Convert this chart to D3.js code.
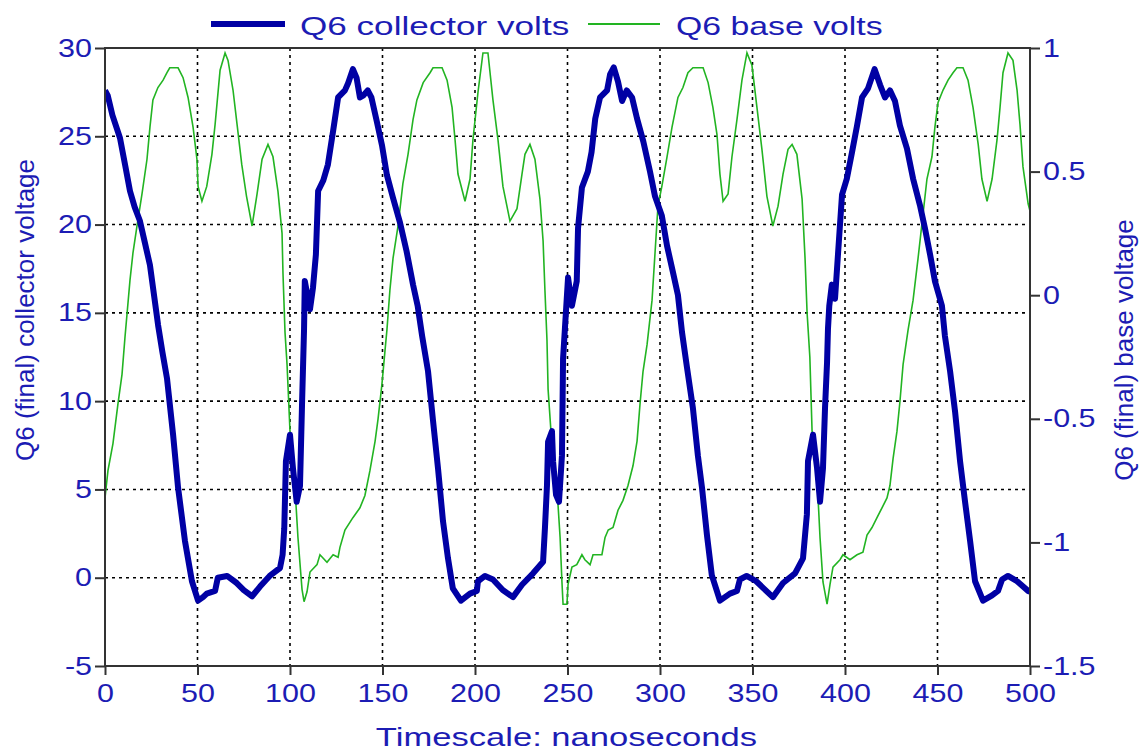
<!DOCTYPE html>
<html>
<head>
<meta charset="utf-8">
<script src="https://cdn.jsdelivr.net/npm/d3@7"></script>
<style>
body { margin:0; background:#fff; }
text { font-family: "Liberation Sans", Arial, sans-serif; fill: #1c1cb4; }
</style>
</head>
<body>
<svg id="chart" width="1139" height="753"></svg>
<script>
// collector volts (left axis)
var collectorT = [0,1.5,4,8.1,11,13.5,16,18.9,21.5,24.3,28.7,31,33.5,36.8,39.5,43.2,45,47,50.3,53,55,59.5,61,66,71.2,75,79.5,83.8,89,94.6,96,96.9,97.8,100,101.6,103.6,105.4,106.5,107.6,108,110.8,112.4,114,115.2,118,120.5,123.3,126,129.7,131.4,134,136,137.8,139.5,142,144,147,149.7,152.4,155.7,159.5,163,166.5,169,171.4,174.6,177.3,180,182.7,185.4,188,192.4,197.3,201,201.6,205.4,209.7,215,220.5,225.4,231.4,236.8,237.8,238.9,239.5,241.6,242.2,243.8,245.4,247,247.6,248.6,250.3,252.4,255,255.7,257.8,261,263,265,267.6,271.4,273,275,277.3,279.5,282,284.9,287.6,291,294.6,297.3,301,303.8,307,309.7,311.9,314.6,317.8,320.5,322.7,325.4,328,332.4,337.8,341.6,343.2,346.8,352,356,361,366.5,373,377.3,379.4,380,382.7,384.9,386.5,388.1,389.2,390.3,390.8,391.5,392.9,394.6,396.2,398.4,401,403.8,406.5,409.2,412.4,416,419,421.6,424.3,427,429.7,433.5,436.8,440.5,443.2,446,448.6,452.4,454,456.8,459.5,462.2,464.9,467.6,470.3,474.6,479.5,482.7,484.9,488.1,493,499,500];
var collectorV = [27.6,27.3,26.2,24.9,23.3,21.9,21.0,20.2,19.0,17.7,14.3,12.8,11.3,8.1,5.1,2.1,1.0,-0.2,-1.3,-1.1,-0.9,-0.75,0,0.1,-0.3,-0.7,-1.05,-0.5,0.1,0.55,1.3,2.8,6.6,8.1,6.2,4.3,5.2,9.8,14.1,16.8,15.2,16.4,18.3,21.9,22.5,23.4,25.3,27.2,27.6,28.0,28.8,28.3,27.2,27.3,27.6,27.2,25.8,24.5,22.8,21.5,20.1,18.5,16.6,15.4,13.7,11.7,8.9,6.2,3.2,1.1,-0.6,-1.3,-0.9,-0.75,-0.2,0.1,-0.1,-0.7,-1.1,-0.4,0.25,0.9,2.8,5.2,7.7,8.3,6.6,4.7,4.3,6.9,12.4,14.1,17.0,15.4,16.8,19.8,22.1,23.0,24.1,26.0,27.2,27.6,28.5,28.9,28.1,27.0,27.6,27.2,26.0,24.7,23.0,21.6,20.5,18.8,17.3,16.0,13.9,11.9,9.6,6.9,5.1,2.4,0.15,-1.3,-0.9,-0.75,-0.1,0.1,-0.2,-0.6,-1.1,-0.3,0.25,1.1,3.6,6.6,8.1,6.2,4.3,6.2,9.6,12.2,14.1,15.4,16.6,15.8,18.3,21.7,22.6,24.1,25.6,27.2,27.7,28.8,27.9,27.2,27.6,27.0,25.6,24.3,22.6,21.1,19.8,18.3,16.8,15.4,13.7,11.7,9.4,6.6,4.3,2.1,-0.2,-1.3,-1.0,-0.75,-0.1,0.1,-0.2,-0.75,-0.8];

// base volts (right axis)
var baseT = [0,1.6,4.3,7,9.2,10.8,13.5,15.1,17.3,20,22.7,24.3,25.9,28.6,31.4,33.5,35,39.5,42.2,44.9,47.6,49.7,50.3,52.4,55,57.8,59.5,62.2,64.9,66.5,69.2,71.4,73.9,76.5,79.5,82.2,84.9,88.1,90.8,93.5,95.7,96.2,97.3,98.4,100,102.7,104.3,106.5,107.6,109.2,110.8,114.6,116.2,120,123.3,126,127,129.7,134,137.8,140.5,143.2,146,147.6,149.7,151.4,152.4,154,155.7,158.4,161,163.8,166.5,168.6,172,175.7,177.3,182.2,184.9,187.6,189.2,190.8,194.6,197.3,198.9,201.6,204.3,207,209.7,212.4,215.1,218.9,222.7,225.4,227,229.7,232.4,235.1,236.8,237.8,238.9,239.5,241.6,244.3,246,247,247.6,249.7,250.3,252.4,255,257.8,259.4,262.2,263.8,268.6,270.3,272,274.6,277.3,280,282.7,285.4,287.6,289.2,290.8,293,295.7,297.3,298.9,301,303.8,306.5,309.7,312.4,315.1,317.8,323.3,326,328.6,330.8,332.4,334.1,336.8,338.9,341.6,344.3,347,349.7,352.4,355.1,357.8,361,363.8,366.5,369.2,371.4,374,376.8,378.4,379.5,381,382.2,384.9,386.5,388.1,390.3,391.9,393.5,397.3,398.9,402.7,406.5,409.7,411.9,414.6,417.3,420,422.7,424.3,426,428.1,429.7,431.4,434.1,436.8,439.5,442.2,444.3,447,448.6,450.3,453,455.7,458.4,460.5,463.8,466.5,469.2,472,474,476.8,479.5,482.2,483.8,485.4,488.1,490.8,493,494.6,496.2,499,500];
var baseV = [-0.82,-0.71,-0.60,-0.44,-0.32,-0.17,0.06,0.17,0.28,0.41,0.55,0.68,0.79,0.84,0.87,0.90,0.92,0.92,0.88,0.80,0.68,0.55,0.44,0.38,0.44,0.57,0.69,0.91,0.98,0.95,0.83,0.69,0.53,0.40,0.28,0.41,0.55,0.61,0.56,0.42,0.25,0.09,-0.15,-0.28,-0.55,-0.78,-0.98,-1.19,-1.24,-1.2,-1.12,-1.09,-1.05,-1.08,-1.05,-1.06,-1.02,-0.95,-0.90,-0.86,-0.81,-0.71,-0.59,-0.5,-0.36,-0.22,-0.14,0.02,0.15,0.28,0.45,0.57,0.71,0.79,0.86,0.90,0.92,0.92,0.87,0.76,0.63,0.49,0.38,0.47,0.63,0.82,0.98,0.98,0.79,0.63,0.44,0.30,0.35,0.49,0.57,0.61,0.55,0.39,0.22,0.02,-0.18,-0.38,-0.61,-0.78,-0.98,-1.16,-1.25,-1.25,-1.17,-1.1,-1.09,-1.05,-1.07,-1.09,-1.05,-1.05,-0.98,-0.95,-0.94,-0.87,-0.83,-0.77,-0.69,-0.59,-0.44,-0.31,-0.2,-0.02,0.17,0.36,0.44,0.56,0.68,0.80,0.84,0.90,0.92,0.92,0.86,0.76,0.65,0.49,0.38,0.41,0.56,0.71,0.87,0.98,0.93,0.76,0.59,0.40,0.28,0.36,0.49,0.59,0.61,0.57,0.39,0.15,-0.07,-0.25,-0.55,-0.74,-0.98,-1.16,-1.25,-1.17,-1.1,-1.07,-1.05,-1.07,-1.05,-1.04,-0.97,-0.94,-0.9,-0.86,-0.82,-0.77,-0.66,-0.55,-0.43,-0.28,-0.14,-0.02,0.15,0.33,0.47,0.56,0.68,0.78,0.83,0.87,0.90,0.92,0.92,0.87,0.76,0.61,0.47,0.38,0.47,0.63,0.76,0.90,0.98,0.95,0.83,0.69,0.52,0.37,0.34];

var xTicks = [0,50,100,150,200,250,300,350,400,450,500];
var leftTicks = [-5,0,5,10,15,20,25,30];
var rightTicks = [-1.5,-1,-0.5,0,0.5,1];
var seriesNames = ["Q6 collector volts","Q6 base volts"];

var svg = d3.select("#chart");
var pLeft = 105, pRight = 1030, pTop = 48, pBottom = 666;
var blue = "#0000a4", green = "#22b422";

var x = d3.scaleLinear().domain([0,500]).range([pLeft,pRight]);
var yL = d3.scaleLinear().domain([-5,30]).range([pBottom,pTop]);
var yR = d3.scaleLinear().domain([-1.5,1]).range([pBottom,pTop]);

// glyphs in the picture are wider than the font, stretch them
var stretch = function(sel, k){
  sel.each(function(){
    var w = this.getComputedTextLength();
    d3.select(this).attr("textLength", w*k).attr("lengthAdjust","spacingAndGlyphs");
  });
}

// grid
svg.append("g").selectAll("line").data(xTicks.slice(1,-1)).enter().append("line")
  .attr("x1",function(d){return x(d)}).attr("x2",function(d){return x(d)})
  .attr("y1",pTop).attr("y2",pBottom)
  .style("stroke","#000").style("stroke-width",1.6).style("stroke-dasharray","3,4");
svg.append("g").selectAll("line").data(leftTicks.slice(1,-1)).enter().append("line")
  .attr("y1",function(d){return yL(d)}).attr("y2",function(d){return yL(d)})
  .attr("x1",pLeft).attr("x2",pRight)
  .style("stroke","#000").style("stroke-width",1.6).style("stroke-dasharray","3,4");

svg.append("clipPath").attr("id","clip").append("rect")
  .attr("x",pLeft).attr("y",pTop-2).attr("width",pRight-pLeft).attr("height",pBottom-pTop+4);

var baseLine = d3.line().x(function(d,i){return x(baseT[i])}).y(function(d){return yR(d)});
var collLine = d3.line().x(function(d,i){return x(collectorT[i])}).y(function(d){return yL(d)});

svg.append("path").attr("d",baseLine(baseV)).attr("clip-path","url(#clip)")
  .style("fill","none").style("stroke",green).style("stroke-width",1.6);
svg.append("path").attr("d",collLine(collectorV)).attr("clip-path","url(#clip)")
  .style("fill","none").style("stroke",blue).style("stroke-width",6).style("stroke-linejoin","round");

// frame
svg.append("rect").attr("x",pLeft).attr("y",pTop).attr("width",pRight-pLeft).attr("height",pBottom-pTop)
  .style("fill","none").style("stroke","#333").style("stroke-width",2);

var fmt = function(d){ return String(d); };
var gx = svg.append("g").attr("transform","translate(0,"+pBottom+")")
  .call(d3.axisBottom(x).tickValues(xTicks).tickSize(9).tickFormat(fmt));
var gl = svg.append("g").attr("transform","translate("+pLeft+",0)")
  .call(d3.axisLeft(yL).tickValues(leftTicks).tickSize(10).tickPadding(3).tickFormat(fmt));
var gr = svg.append("g").attr("transform","translate("+pRight+",0)")
  .call(d3.axisRight(yR).tickValues(rightTicks).tickSize(10).tickPadding(3).tickFormat(fmt));

[gx,gl,gr].forEach(function(g){
  g.select(".domain").remove();
  g.selectAll("line").style("stroke","#333").style("stroke-width",2);
  g.selectAll("text").style("font-size","25px").style("fill","#1c1cb4");
  stretch(g.selectAll("text"),1.22);
});
gx.selectAll("text").attr("dy","0.95em");

// axis titles
var xt = svg.append("text").attr("x",(pLeft+pRight)/2-1).attr("y",746)
  .attr("text-anchor","middle").style("font-size","26px").text("Timescale: nanoseconds");
stretch(xt,1.33);
svg.append("text").attr("transform","translate(34,310) rotate(-90)")
  .attr("text-anchor","middle").style("font-size","26px").text("Q6 (final) collector voltage");
svg.append("text").attr("transform","translate(1133,350) rotate(-90)")
  .attr("text-anchor","middle").style("font-size","26px").text("Q6 (final) base voltage");

// legend
var legendX = [211,588];
var legendColors = [blue,green];
var legendWidths = [6,2];
var legendStretch = [1.35,1.3];
var lg = svg.append("g").selectAll("g").data(seriesNames).enter().append("g")
  .attr("transform",function(d,i){return "translate("+legendX[i]+",24)"});
lg.append("line").attr("x1",0).attr("x2",function(d,i){return i==0?74:72}).attr("y1",0).attr("y2",0)
  .style("stroke",function(d,i){return legendColors[i]}).style("stroke-width",function(d,i){return legendWidths[i]});
lg.append("text").attr("x",function(d,i){return i==0?89:88}).attr("y",11)
  .style("font-size","26px").text(function(d){return d})
  .each(function(d,i){ stretch(d3.select(this),legendStretch[i]); });
</script>
</body>
</html>
